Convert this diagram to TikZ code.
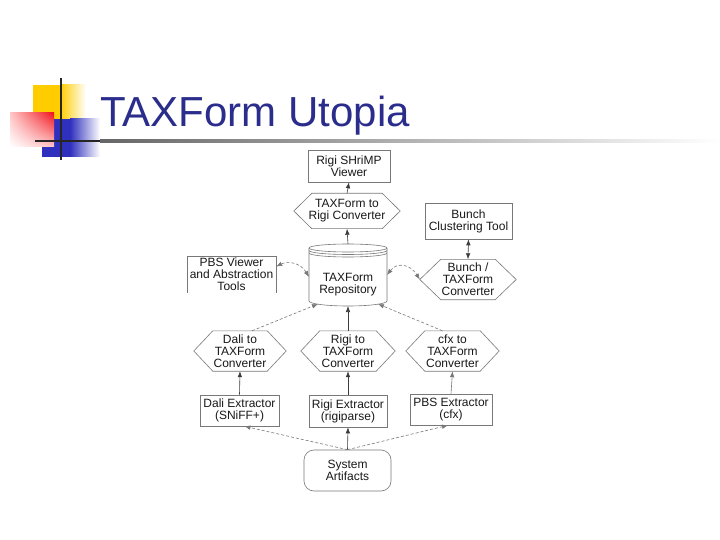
\documentclass[tikz,border=0pt]{standalone}
\usepackage{fontspec}
\setmainfont{Liberation Sans}
\usetikzlibrary{arrows.meta,calc,shadings}
\definecolor{titleblue}{RGB}{43,45,140}
\definecolor{decoyellow}{RGB}{255,204,0}
\definecolor{decoblue}{RGB}{48,48,190}
\definecolor{decored}{RGB}{240,20,30}
\definecolor{linegray}{RGB}{60,60,60}
\definecolor{boxgray}{RGB}{120,120,120}
\definecolor{txtgray}{RGB}{25,25,25}
\newcommand{\hexn}[7]{% name, cx, cy, w, h, tip, text
  \node[lbl, minimum width=#4pt, minimum height=#5pt] (#1) at (#2,#3) {#7};
  \draw[boxline] (#1.west) -- ($(#1.north west)+(#6,0)$) -- ($(#1.north east)+(-#6,0)$)
    -- (#1.east) -- ($(#1.south east)+(-#6,0)$) -- ($(#1.south west)+(#6,0)$) -- cycle;}
\begin{document}
\begin{tikzpicture}[x=1pt,y=-1pt,
  boxline/.style={draw=boxgray, line width=0.6pt},
  lbl/.style={font=\fontsize{12}{12}\selectfont, text=txtgray, align=center, inner sep=0pt},
  rectbox/.style={lbl, boxline},
  dbl/.style={{Latex[length=6pt,width=4.5pt]}-{Latex[length=6pt,width=4.5pt]}},
  conn/.style={draw=linegray, line width=0.6pt, -{Latex[length=6pt,width=4.5pt]}},
  dconn/.style={conn, draw=boxgray, dash pattern=on 3pt off 2pt},
  title/.style={font=\fontsize{42}{48}\selectfont, text=titleblue, inner sep=0pt}]
\path[fill=white] (0,0) rectangle (720,540);
\useasboundingbox (0,0) rectangle (720,540);
% decoration
\fill[decoyellow] (33,85) rectangle (60,121);
\shade[left color=decoyellow, right color=white] (60,85) rectangle (86,121);
\fill[decoblue] (42,119) rectangle (70,157);
\shade[left color=decoblue, right color=white] (70,119) rectangle (100,157);
\shade[upper left=red!22, upper right=decored, lower left=white, lower right=red!22] (10,113) rectangle (54,147);
\draw[line width=2.5pt, black!85] (35,141) -- (100,141);
\shade[left color=black!60, right color=white] (100,139.8) rectangle (720,142.2);
\draw[line width=2.5pt, black!85] (61,78) -- (61,160);
\node[title, anchor=base west] (title) at (100,127) {TAXForm Utopia};
% nodes
\node[rectbox, minimum width=82pt, minimum height=32pt] (viewer) at (349,166) {Rigi SHriMP\\Viewer};
\hexn{torigi}{347}{211}{106}{35}{18}{TAXForm to\\Rigi Converter}
\node[rectbox, minimum width=87pt, minimum height=36pt] (bunchtool) at (468.5,221) {Bunch\\Clustering Tool};
\node[lbl, minimum width=89pt, minimum height=36pt] (pbsview) at (231.5,274.5) {PBS Viewer\\and Abstraction\\Tools};
\draw[boxline] (pbsview.south west) -- (pbsview.north west) -- (pbsview.north east) -- (pbsview.south east);
\hexn{bunchhex}{468}{279.5}{96}{40}{21}{Bunch /\\TAXForm\\Converter}
% cylinder
\node[minimum width=78pt, minimum height=62pt, inner sep=0pt] (repo) at (348,275) {};
\node[lbl] (repotxt) at (348,285) {TAXForm\\Repository};
\draw[boxline] (348,248) ellipse [x radius=39pt, y radius=4pt];
\draw[boxline] (309,250.5) arc[start angle=180, end angle=360, x radius=39pt, y radius=4pt];
\draw[boxline] (309,253) arc[start angle=180, end angle=360, x radius=39pt, y radius=4pt];
\draw[boxline] (309,248) -- (309,301) arc[start angle=180, end angle=360, x radius=39pt, y radius=5pt] -- (387,248);
\coordinate (cylT) at (348,244);
\coordinate (cylB) at (348,306);
\coordinate (cylBL) at (318,304);
\coordinate (cylBR) at (378,304);
\coordinate (cylL) at (309,277);
\coordinate (cylR) at (387,275);
% converters
\hexn{dalihex}{240}{351}{92}{40}{19}{Dali to\\TAXForm\\Converter}
\hexn{rigihex}{348}{351}{94}{40}{19}{Rigi to\\TAXForm\\Converter}
\hexn{cfxhex}{452.5}{351}{93}{40}{19}{cfx to\\TAXForm\\Converter}
% extractors
\node[rectbox, minimum width=79pt, minimum height=31pt] (daliext) at (239.5,410.5) {Dali Extractor\\(SNiFF+)};
\node[rectbox, minimum width=78pt, minimum height=32pt] (rigiext) at (348,411) {Rigi Extractor\\(rigiparse)};
\node[rectbox, minimum width=82pt, minimum height=31pt] (pbsext) at (451,409.5) {PBS Extractor\\(cfx)};
\node[rectbox, rounded corners=10pt, minimum width=87pt, minimum height=41pt] (sysart) at (347.5,470.5) {System\\Artifacts};
% connectors
\draw[conn] (torigi.north) -- (viewer.south);
\draw[conn] (cylT) -- (torigi.south);
\draw[conn, dbl] (bunchtool.south) -- (bunchhex.north);
\draw[dconn, dbl] (cylL) .. controls (300,262) and (287,261) .. (pbsview.10);
\draw[dconn, dbl] (cylR) .. controls (397,262) and (410,264) .. (bunchhex.west);
\draw[dconn] ($(dalihex.north)+(12,0)$) -- (cylBL);
\draw[conn] (rigihex.north) -- (cylB);
\draw[dconn] ($(cfxhex.north)+(-10,0)$) -- (cylBR);
\draw[conn] (daliext.north) -- (dalihex.south);
\draw[conn] (rigiext.north) -- (rigihex.south);
\draw[conn, draw=boxgray] (pbsext.north) -- (cfxhex.south);
\draw[dconn] (sysart.north) -- ($(daliext.south)+(5,0)$);
\draw[conn] (sysart.north) -- (rigiext.south);
\draw[dconn] (sysart.north) -- ($(pbsext.south)+(-3,0)$);
\end{tikzpicture}
\end{document}
